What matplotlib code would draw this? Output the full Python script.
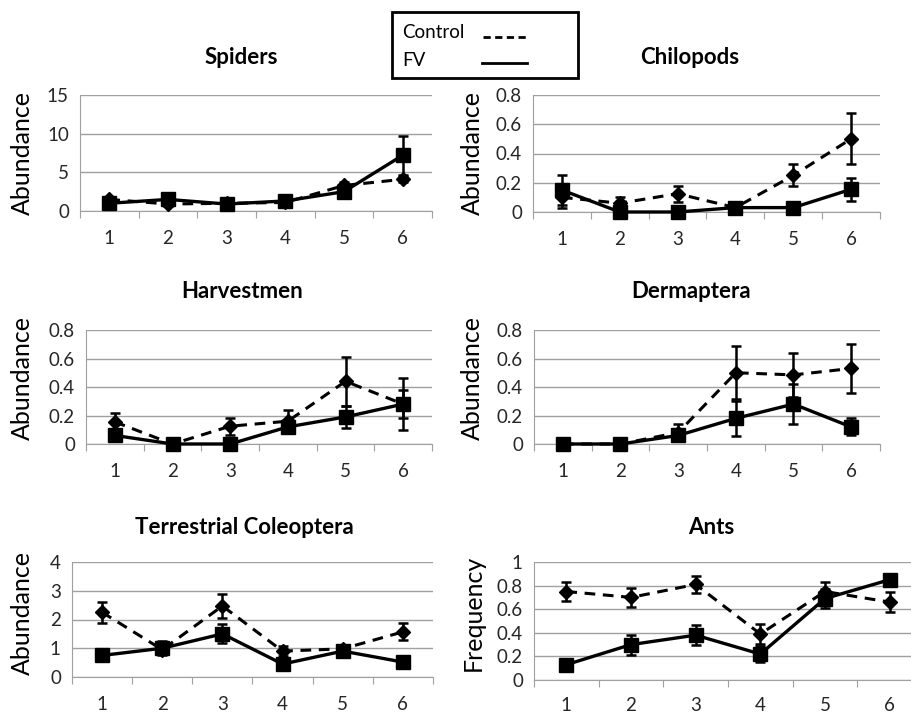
import matplotlib
matplotlib.use("Agg")
import matplotlib.pyplot as plt
from matplotlib.lines import Line2D
from matplotlib.patches import Rectangle
from matplotlib.ticker import FixedLocator, NullFormatter

plt.rcParams['font.family'] = ['Lato', 'DejaVu Sans']

W, H = 912, 715
months = [1, 2, 3, 4, 5, 6]

# values: (FV mean, FV err, Control mean, Control err)
spiders_fv = [1.0, 1.5, 0.9, 1.3, 2.5, 7.2]
spiders_fv_err = [0.2, 0.25, 0.2, 0.2, 0.4, 2.5]
spiders_ctl = [1.5, 0.9, 1.0, 1.1, 3.3, 4.1]
spiders_ctl_err = [0.3, 0.2, 0.2, 0.2, 0.4, 0.4]

chilo_fv = [0.15, 0.0, 0.0, 0.03, 0.03, 0.155]
chilo_fv_err = [0.105, 0.0, 0.0, 0.0, 0.0, 0.08]
chilo_ctl = [0.10, 0.06, 0.125, 0.03, 0.25, 0.50]
chilo_ctl_err = [0.07, 0.04, 0.055, 0.0, 0.075, 0.175]

harv_fv = [0.06, 0.0, 0.0, 0.12, 0.19, 0.28]
harv_fv_err = [0.0, 0.0, 0.0, 0.03, 0.08, 0.18]
harv_ctl = [0.155, 0.0, 0.125, 0.16, 0.44, 0.28]
harv_ctl_err = [0.065, 0.0, 0.06, 0.08, 0.17, 0.10]

derm_fv = [0.0, 0.0, 0.06, 0.18, 0.28, 0.12]
derm_fv_err = [0.0, 0.0, 0.02, 0.125, 0.14, 0.06]
derm_ctl = [0.0, 0.0, 0.08, 0.50, 0.485, 0.53]
derm_ctl_err = [0.0, 0.0, 0.06, 0.185, 0.155, 0.175]

coleo_fv = [0.75, 1.0, 1.5, 0.45, 0.9, 0.52]
coleo_fv_err = [0.0, 0.25, 0.33, 0.0, 0.1, 0.0]
coleo_ctl = [2.25, 0.95, 2.47, 0.9, 0.98, 1.57]
coleo_ctl_err = [0.37, 0.15, 0.42, 0.18, 0.1, 0.3]

ants_fv = [0.13, 0.30, 0.38, 0.22, 0.69, 0.85]
ants_fv_err = [0.04, 0.085, 0.085, 0.065, 0.08, 0.04]
ants_ctl = [0.75, 0.70, 0.81, 0.39, 0.75, 0.66]
ants_ctl_err = [0.08, 0.08, 0.07, 0.085, 0.08, 0.085]

# panel layout in pixels: left, right, top, bottom of plot area
panels = [
    ("Spiders", "Abundance", (80, 432, 95, 211), 15, [0, 5, 10, 15], ["0", "5", "10", "15"],
     spiders_fv, spiders_fv_err, spiders_ctl, spiders_ctl_err, (241, 58), (22, 153), 14),
    ("Chilopods", "Abundance", (533, 880, 95, 212), 0.8, [0, 0.2, 0.4, 0.6, 0.8], ["0", "0.2", "0.4", "0.6", "0.8"],
     chilo_fv, chilo_fv_err, chilo_ctl, chilo_ctl_err, (690, 58), (472, 153), 14),
    ("Harvestmen", "Abundance", (86, 432, 330, 444), 0.8, [0, 0.2, 0.4, 0.6, 0.8], ["0", "0.2", "0.4", "0.6", "0.8"],
     harv_fv, harv_fv_err, harv_ctl, harv_ctl_err, (242, 292), (22, 378), 14),
    ("Dermaptera", "Abundance", (534, 880, 330, 444), 0.8, [0, 0.2, 0.4, 0.6, 0.8], ["0", "0.2", "0.4", "0.6", "0.8"],
     derm_fv, derm_fv_err, derm_ctl, derm_ctl_err, (691, 292), (472, 378), 14),
    ("Terrestrial Coleoptera", "Abundance", (72, 433, 562, 677), 4, [0, 1, 2, 3, 4], ["0", "1", "2", "3", "4"],
     coleo_fv, coleo_fv_err, coleo_ctl, coleo_ctl_err, (244, 527), (22, 613), 14),
    ("Ants", "Frequency", (534, 922, 562, 680), 1, [0, 0.2, 0.4, 0.6, 0.8, 1.0], ["0", "0.2", "0.4", "0.6", "0.8", "1"],
     ants_fv, ants_fv_err, ants_ctl, ants_ctl_err, (711, 527), (473, 613), 12),
]

fig = plt.figure(figsize=(W / 100, H / 100), dpi=100)
grey = '#a0a0a0'
txt = '#262626'

for (title, ylab, box, ymax, yt, ytl, fv, fv_e, ctl, ctl_e, tpos, ypos, xpad) in panels:
    l, r, t, b = box
    ax = fig.add_axes([l / W, 1 - b / H, (r - l) / W, (b - t) / H])
    ax.set_xlim(0.5, 6.5)
    ax.set_ylim(0, ymax)
    ax.errorbar(months, ctl, yerr=ctl_e, color='black', ls='--', lw=2.2,
                marker='D', ms=7, capsize=3.5, elinewidth=1.8, capthick=1.8,
                clip_on=False, zorder=3, dashes=(3.5, 2.5))
    ax.errorbar(months, fv, yerr=fv_e, color='black', ls='-', lw=2.4,
                marker='s', ms=10, capsize=3.5, elinewidth=1.8, capthick=1.8,
                clip_on=False, zorder=4)
    ax.set_yticks(yt)
    ax.set_yticklabels(ytl)
    ax.yaxis.grid(True, color=grey, lw=1)
    ax.set_axisbelow(True)
    ax.xaxis.set_major_locator(FixedLocator([0.5, 1.5, 2.5, 3.5, 4.5, 5.5, 6.5]))
    ax.xaxis.set_major_formatter(NullFormatter())
    ax.xaxis.set_minor_locator(FixedLocator(months))
    ax.set_xticklabels([str(m) for m in months], minor=True)
    ax.tick_params(axis='x', which='major', length=5, color=grey, direction='out')
    ax.tick_params(axis='x', which='minor', length=0, pad=xpad, labelsize=13.5, labelcolor=txt)
    ax.tick_params(axis='y', length=0, pad=8, labelsize=13.5, labelcolor=txt)
    for s in ['top', 'right']:
        ax.spines[s].set_visible(False)
    ax.spines['left'].set_color(grey)
    ax.spines['bottom'].set_color(grey)
    fig.text(tpos[0] / W, 1 - tpos[1] / H, title, ha='center', va='center',
             fontsize=16, fontweight='bold', color='black')
    fig.text(ypos[0] / W, 1 - ypos[1] / H, ylab, ha='center', va='center',
             rotation=90, fontsize=18, color='black')

# legend box drawn at the top
fig.patches.append(Rectangle((392 / W, 1 - 78 / H), 186 / W, 66 / H, transform=fig.transFigure,
                             fill=False, ec='black', lw=2))
fig.text(402 / W, 1 - 33 / H, "Control", ha='left', va='center', fontsize=13.5)
fig.text(402 / W, 1 - 61 / H, "FV", ha='left', va='center', fontsize=13.5)
fig.lines.append(Line2D([483 / W, 527 / W], [1 - 37 / H, 1 - 37 / H], transform=fig.transFigure,
                        color='black', lw=2, ls='--', dashes=(2.6, 1.6)))
fig.lines.append(Line2D([482 / W, 527 / W], [1 - 63 / H, 1 - 63 / H], transform=fig.transFigure,
                        color='black', lw=2))

fig.savefig("out.png", dpi=100)
